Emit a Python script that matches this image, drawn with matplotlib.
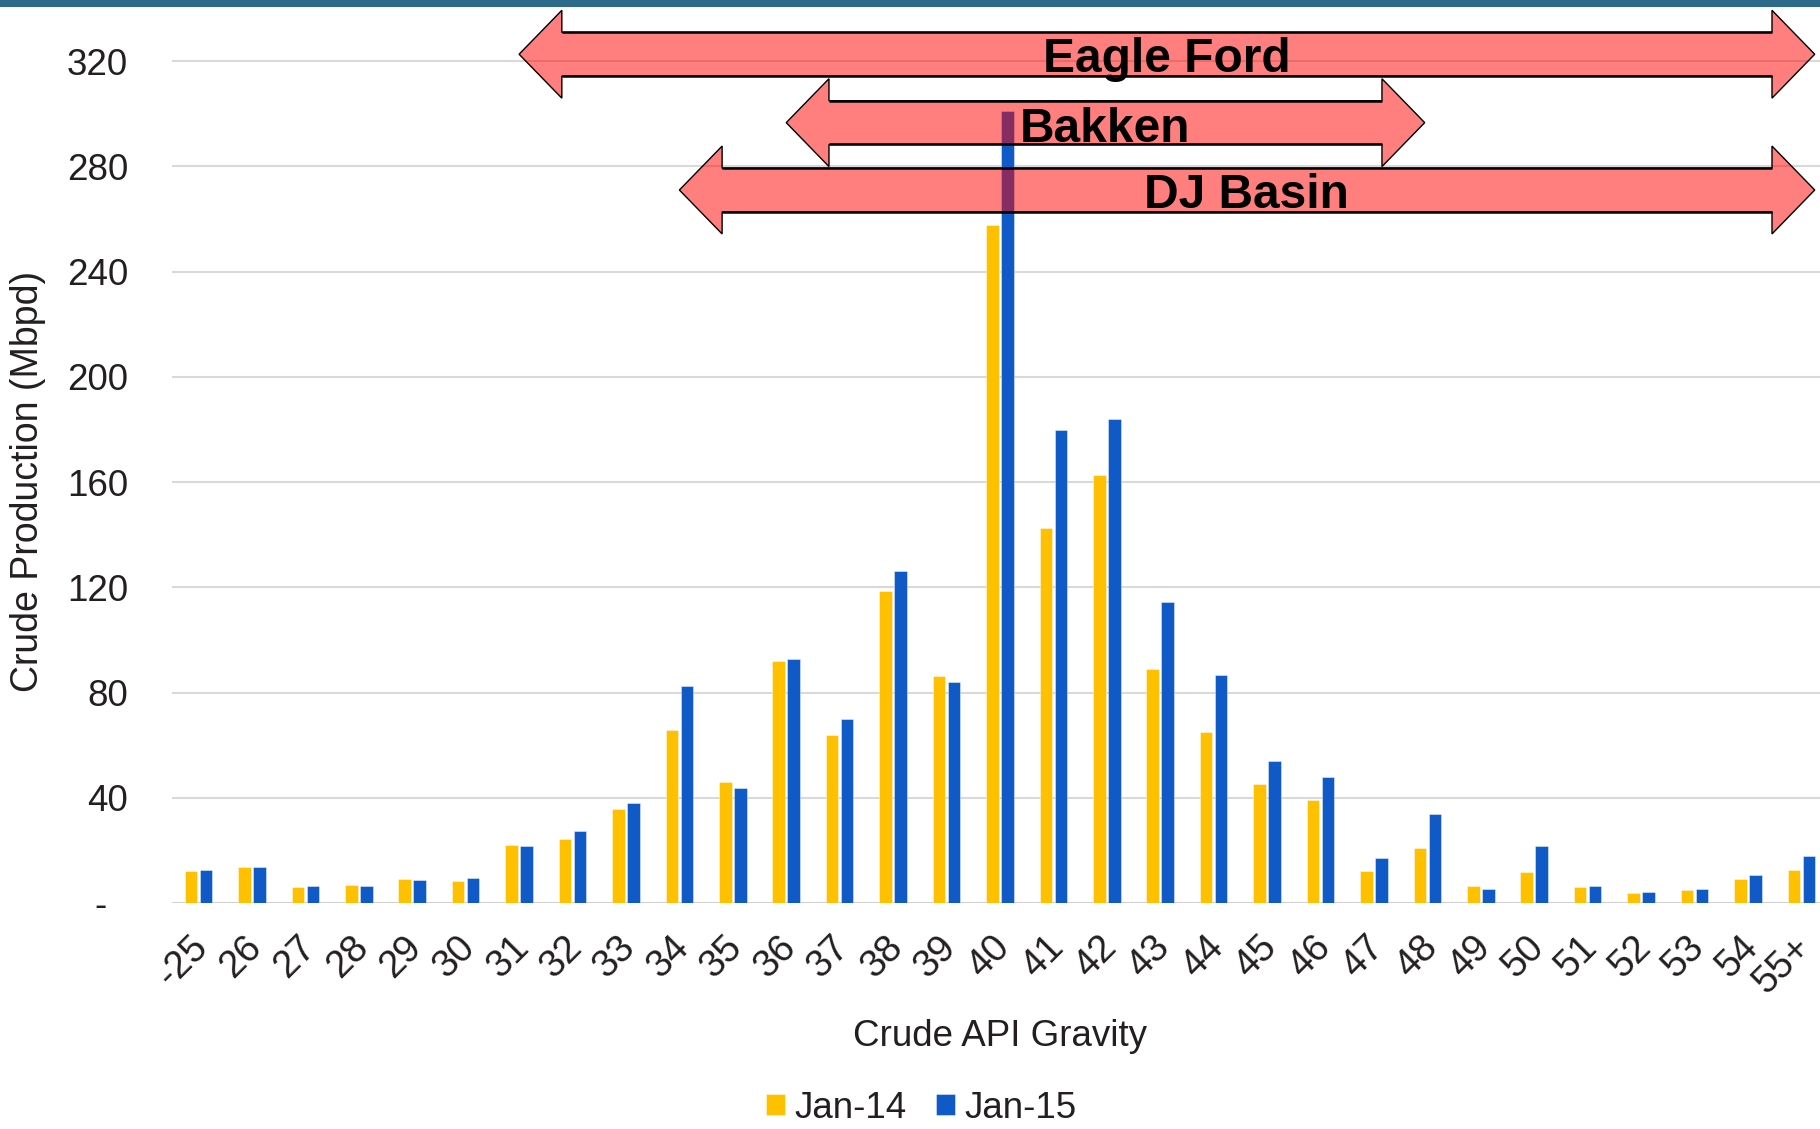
import matplotlib
matplotlib.use("Agg")
import matplotlib.pyplot as plt
from matplotlib.patches import Polygon, Rectangle
import matplotlib.transforms as mtrans

plt.rcParams['font.family'] = ['Liberation Sans', 'DejaVu Sans']

# ---------------- data ----------------
categories = ['-25', '26', '27', '28', '29', '30', '31', '32', '33', '34', '35',
              '36', '37', '38', '39', '40', '41', '42', '43', '44', '45', '46',
              '47', '48', '49', '50', '51', '52', '53', '54', '55+']
jan14 = [12.0, 13.7, 6.1, 6.8, 9.1, 8.4, 22.0, 24.3, 35.9, 65.8, 45.9,
         92.1, 63.9, 118.7, 86.2, 257.7, 142.5, 162.8, 88.9, 65.0, 45.4, 39.3,
         12.3, 21.0, 6.3, 11.9, 6.0, 3.8, 4.8, 9.0, 12.5]
jan15 = [12.4, 13.6, 6.3, 6.6, 8.7, 9.5, 21.8, 27.2, 38.1, 82.6, 43.6,
         92.6, 70.1, 126.2, 84.1, 301.0, 179.6, 184.0, 114.3, 86.5, 54.0, 47.9,
         17.2, 33.8, 5.2, 21.7, 6.5, 4.2, 5.3, 10.6, 17.9]
series_names = ['Jan-14', 'Jan-15']
y_ticks = [0, 40, 80, 120, 160, 200, 240, 280, 320]
y_tick_labels = ['-  ', '40', '80', '120', '160', '200', '240', '280', '320']

# crude plays: range of API gravity (category index of arrow tips) and level
play_names = ['Eagle Ford', 'Bakken', 'DJ Basin']
play_start = [6.0, 11.0, 9.0]
play_end = [30.25, 22.95, 30.25]
play_level = [322.6, 296.6, 271.0]
play_label_x = [18.12, 16.97, 19.62]
play_label_y = [315.7, 289.4, 264.0]

# ---------------- styles ----------------
C_YEL = '#FFC000'
C_BLU = '#0F5AC6'
C_TXT = '#231F20'
C_GRID = '#D9D9D9'

W, H = 1820, 1129
fig = plt.figure(figsize=(W / 100, H / 100), dpi=100)

ax_left = 171.8 / W
ax_right_px = 1828.1
ax_bottom = (H - 903) / H
ax_top_px = 903 - 330 * 2.631
ax = fig.add_axes([ax_left, ax_bottom, (ax_right_px - 171.8) / W, (903 - ax_top_px) / H])

x = list(range(len(categories)))
bw = 0.235
off = 0.14
ax.bar([i - off for i in x], jan14, width=bw, color=C_YEL, label=series_names[0],
       edgecolor=(1, 1, 1, 0.5), linewidth=0.6, zorder=3)
ax.bar([i + off for i in x], jan15, width=bw, color=C_BLU, label=series_names[1],
       edgecolor=(1, 1, 1, 0.5), linewidth=0.6, zorder=3)

ax.set_xlim(-0.5, 30.5)
ax.set_ylim(0, 330)
ax.set_yticks(y_ticks)
ax.set_yticklabels(y_tick_labels)
ax.set_xticks(x)
ax.set_xticklabels(categories)

for s in ax.spines.values():
    s.set_visible(False)
ax.yaxis.grid(True, color=C_GRID, linewidth=1.5, zorder=0)
ax.set_axisbelow(True)
ax.axhline(0, color='#D0D0D0', linewidth=2.0, zorder=2)

ax.tick_params(axis='y', length=0, pad=31.5, labelsize=26.5, labelcolor=C_TXT)
ax.tick_params(axis='x', length=0, pad=19, labelsize=27.5, labelcolor=C_TXT)
shift = mtrans.ScaledTranslation(17 / 100, 0, fig.dpi_scale_trans)
for lab in ax.get_xticklabels():
    lab.set_rotation(45)
    lab.set_ha('right')
    lab.set_transform(lab.get_transform() + shift)

# arrows for crude plays
hb, hh, hl = 8.3, 16.7, 0.8
for name, x0, x1, yc, lx, ly in zip(play_names, play_start, play_end, play_level,
                                    play_label_x, play_label_y):
    pts = [(x0, yc), (x0 + hl, yc + hh), (x0 + hl, yc + hb), (x1 - hl, yc + hb),
           (x1 - hl, yc + hh), (x1, yc), (x1 - hl, yc - hh), (x1 - hl, yc - hb),
           (x0 + hl, yc - hb), (x0 + hl, yc - hh)]
    poly = Polygon(pts, closed=True, facecolor=(1, 0, 0, 0.5), edgecolor='black',
                   linewidth=1.0, zorder=5, clip_on=False)
    ax.add_patch(poly)
    for yy in (yc + hb, yc - hb):
        ax.plot([x0 + hl, x1 - hl], [yy, yy], color='black', linewidth=1.8,
                zorder=5, clip_on=False, solid_capstyle='butt')
    ax.text(lx, ly, name, ha='center', va='baseline', fontsize=34.5,
            fontweight='bold', color='black', zorder=6, clip_on=False)

# axis titles
fig.text(1000 / W, (H - 1045.7) / H, 'Crude API Gravity', ha='center', va='baseline',
         fontsize=26.5, color=C_TXT)
fig.text(28 / W, (H - 481) / H, 'Crude Production (Mbpd)', ha='center', va='center',
         rotation=90, fontsize=27, color=C_TXT)

# legend
fig.legend(loc='center', bbox_to_anchor=(921 / W, (H - 1108) / H), ncol=2,
           frameon=False, fontsize=26.5, handlelength=0.52, handleheight=0.52,
           handletextpad=0.25, columnspacing=0.8, labelcolor=C_TXT, borderpad=0)

# top band
fig.patches.append(Rectangle((0, 1 - 7 / H), 1, 7 / H, transform=fig.transFigure,
                             facecolor='#2C6B8A', edgecolor='none', zorder=10))

fig.savefig('out.png', dpi=100)
